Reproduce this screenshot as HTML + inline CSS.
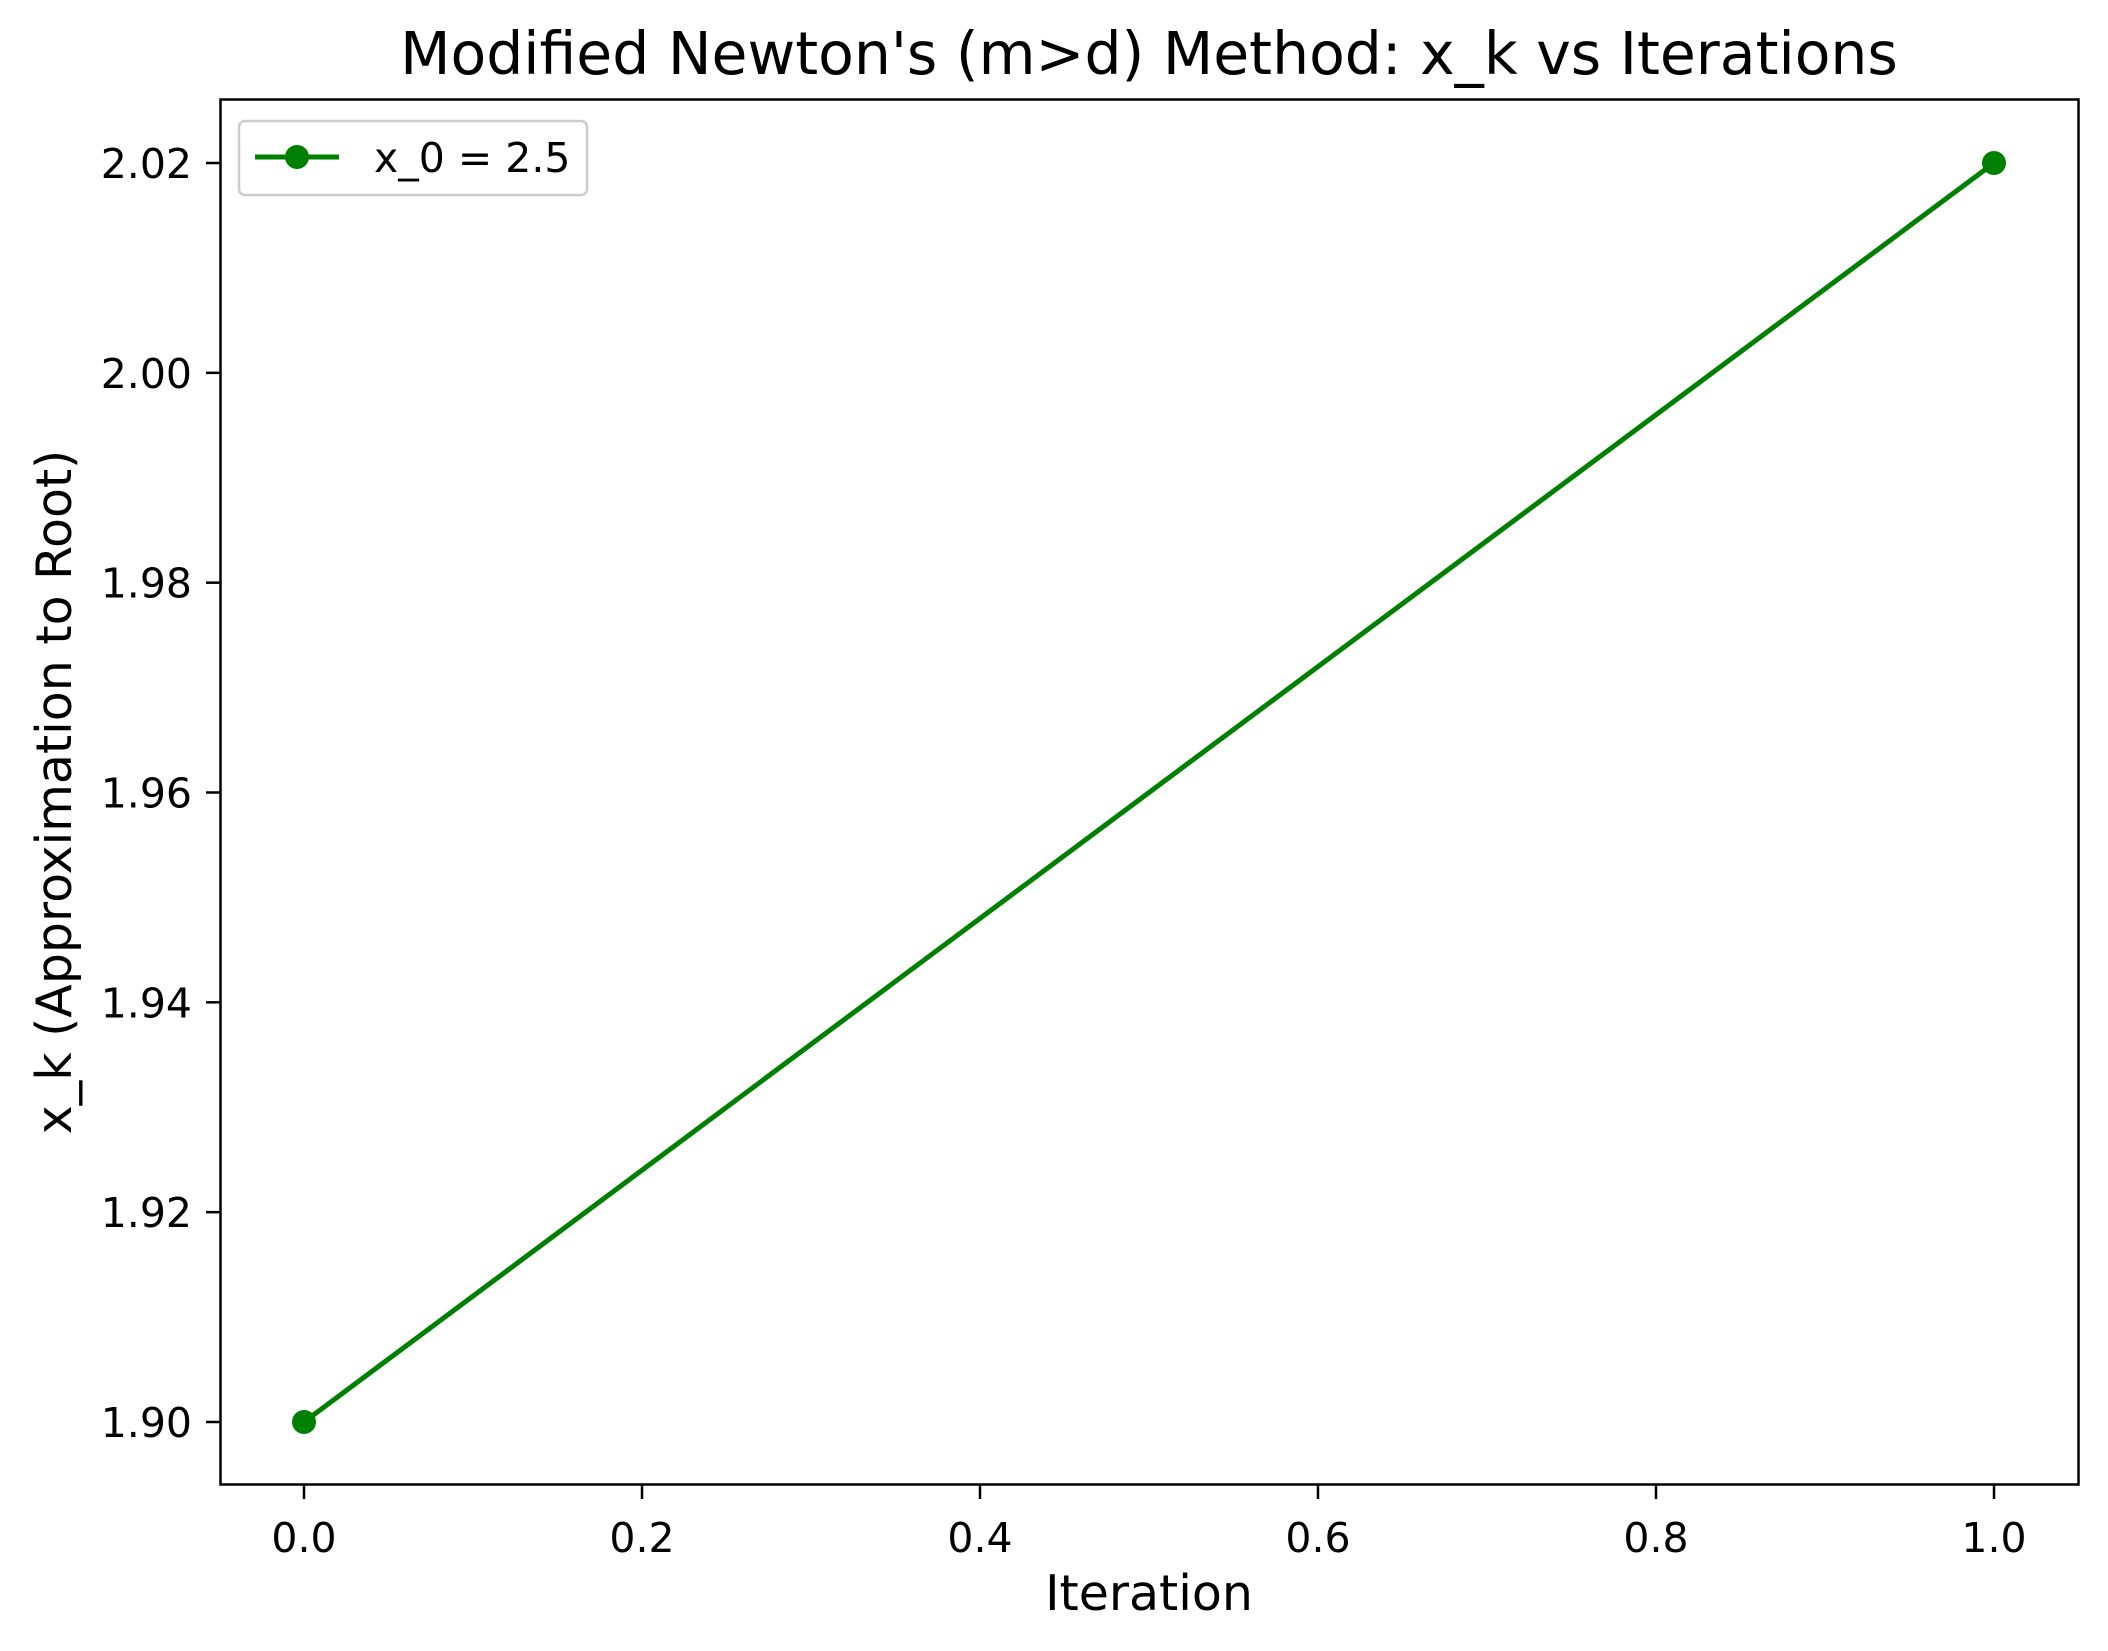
<!DOCTYPE html>
<html><head><meta charset="utf-8"><style>
html,body{margin:0;padding:0;background:#fff;}
svg{display:block;font-family:"DejaVu Sans","Liberation Sans",sans-serif;}
</style></head><body>
<svg id="chart" width="2108" height="1651" viewBox="0 0 2108 1651">
<rect width="2108" height="1651" fill="#fff"/>
<text x="1149" y="74" font-size="58.4" text-anchor="middle">Modified Newton's (m&gt;d) Method: x_k vs Iterations</text>
<g id="xticks"></g>
<g id="yticks"></g>
<g id="series"></g>
<rect x="220.5" y="99.5" width="1858" height="1385" fill="none" stroke="#000" stroke-width="2.5"/>
<text x="1149" y="1610" font-size="49" text-anchor="middle">Iteration</text>
<text transform="translate(71,792) rotate(-90)" font-size="49" text-anchor="middle">x_k (Approximation to Root)</text>
<g>
<rect x="239" y="121" width="348" height="74" rx="6" fill="#fff" fill-opacity="0.8" stroke="#ccc" stroke-width="2.5"/>
<line x1="255" y1="157" x2="339" y2="157" stroke="#008000" stroke-width="5"/>
<circle cx="297" cy="157" r="12" fill="#008000"/>
<text x="374" y="172" font-size="41">x_0 = 2.5</text>
</g>
</svg>
<script>
const iterations = [0, 1];
const xkValues = [1.90, 2.02];
const xTickValues = [0.0, 0.2, 0.4, 0.6, 0.8, 1.0];
const xTickLabels = ["0.0", "0.2", "0.4", "0.6", "0.8", "1.0"];
const yTickValues = [1.90, 1.92, 1.94, 1.96, 1.98, 2.00, 2.02];
const yTickLabels = ["1.90", "1.92", "1.94", "1.96", "1.98", "2.00", "2.02"];

const NS = "http://www.w3.org/2000/svg";
function xs(v){ return 304 + (v - 0) * (1994 - 304) / 1; }
function ys(v){ return 1422 + (v - 1.90) * (163 - 1422) / 0.12; }
function mk(tag, attrs){ const e = document.createElementNS(NS, tag); for (const k in attrs) e.setAttribute(k, attrs[k]); return e; }

const gx = document.getElementById('xticks');
xTickValues.forEach((v, i) => {
  const t = mk('line', {x1: xs(v), x2: xs(v), y1: 1484.5, y2: 1499, stroke: '#000', 'stroke-width': 2.5});
  
  
  gx.appendChild(t);
  const l = mk('text', {x: xs(v), y: 1552, 'font-size': 41, 'text-anchor': 'middle'});
  l.textContent = xTickLabels[i];
  
  
  gx.appendChild(l);
});
const gy = document.getElementById('yticks');
yTickValues.forEach((v, i) => {
  const t = mk('line', {x1: 206, x2: 220.5, y1: ys(v), y2: ys(v), stroke: '#000', 'stroke-width': 2.5});
  
  
  gy.appendChild(t);
  const l = mk('text', {x: 192, y: ys(v) + 15, 'font-size': 41, 'text-anchor': 'end'});
  l.textContent = yTickLabels[i];
  
  
  gy.appendChild(l);
});
const gs = document.getElementById('series');
const pts = iterations.map((x, i) => xs(x) + ',' + ys(xkValues[i])).join(' ');
const pl = mk('polyline', {points: pts, fill: 'none', stroke: '#008000', 'stroke-width': 5, 'stroke-linejoin': 'round', 'stroke-linecap': 'square'});


gs.appendChild(pl);
iterations.forEach((x, i) => {
  const c = mk('circle', {cx: xs(x), cy: ys(xkValues[i]), r: 12, fill: '#008000'});
  
  
  gs.appendChild(c);
});
</script>
</body></html>
